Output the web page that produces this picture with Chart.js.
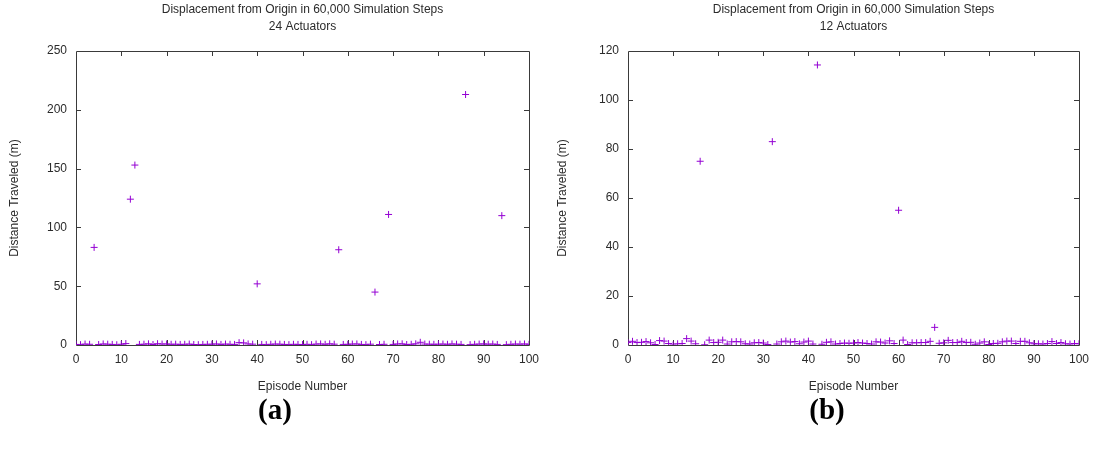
<!DOCTYPE html>
<html>
<head>
<meta charset="utf-8">
<script src="https://cdn.jsdelivr.net/npm/chart.js@4.4.1/dist/chart.umd.min.js"></script>
<style>
  html, body { margin: 0; padding: 0; background: #fff; }
  #page { position: relative; width: 1097px; height: 455px; overflow: hidden; background: #fff; }
  .panel { position: absolute; top: 0; }
  .tag { position: absolute; top: 389px; width: 120px; text-align: center;
         font-family: "Liberation Serif", "DejaVu Serif", serif; font-weight: bold;
         font-size: 29px; color: #000; line-height: 40px; }
</style>
</head>
<body>
<div id="page">
  <div class="panel" style="left:0; width:548px;"><canvas id="chartA" width="548" height="400"></canvas></div>
  <div class="panel" style="left:548px; width:549px;"><canvas id="chartB" width="549" height="400"></canvas></div>
  <div class="tag" style="left:215px;">(a)</div>
  <div class="tag" style="left:767px;">(b)</div>
</div>
<script>
// Episode numbers (x values shared by both runs)
const episodes = [
  0, 1, 2, 3, 4, 5, 6, 7, 8, 9, 10, 11, 12, 13, 14, 15, 16, 17, 18, 19,
  20, 21, 22, 23, 24, 25, 26, 27, 28, 29, 30, 31, 32, 33, 34, 35, 36, 37, 38, 39,
  40, 41, 42, 43, 44, 45, 46, 47, 48, 49, 50, 51, 52, 53, 54, 55, 56, 57, 58, 59,
  60, 61, 62, 63, 64, 65, 66, 67, 68, 69, 70, 71, 72, 73, 74, 75, 76, 77, 78, 79,
  80, 81, 82, 83, 84, 85, 86, 87, 88, 89, 90, 91, 92, 93, 94, 95, 96, 97, 98, 99, 100
];

// Distance traveled (m) per episode, 24 actuators
const distance24 = [
  0.5, 0.3, 0.8, 0.6, 83, 0.4, 0.9, 0.7, 0.5, 0.2, 0.6, 1.2, 124, 153, 0.5, 0.7, 1.0, 0.4, 1.1, 0.8,
  0.9, 0.6, 0.7, 0.5, 0.6, 0.8, 0.4, 0.3, 0.5, 0.6, 0.7, 0.9, 0.5, 0.8, 0.6, 0.5, 2.0, 1.8, 0.9, 0.7,
  52, 0.5, 0.3, 0.6, 0.8, 0.7, 0.5, 0.3, 0.6, 0.5, 0.4, 0.6, 0.3, 0.8, 0.9, 0.6, 1.0, 0.7, 81, 0.5,
  0.6, 0.8, 0.9, 0.5, 0.3, 0.7, 45, 0.4, 0.6, 111, 0.5, 0.9, 1.0, 0.4, 0.6, 1.0, 2.3, 0.8, 0.7, 0.6,
  0.7, 0.8, 0.6, 0.9, 0.7, 0.5, 213, 0.3, 0.6, 0.8, 0.9, 0.7, 0.8, 0.5, 110, 0.3, 0.6, 0.8, 0.7, 0.9, 0.6
];

// Distance traveled (m) per episode, 12 actuators
const distance12 = [
  1.0, 1.5, 1.0, 1.1, 1.4, 0.9, 0.2, 1.8, 1.6, 0.6, 0.0, 0.5, 0.6, 2.6, 1.6, 0.5, 75, 0.1, 2.0, 1.0,
  1.1, 2.0, 0.4, 1.3, 1.4, 1.3, 0.5, 0.4, 0.9, 1.0, 0.8, 0.2, 83, 0.4, 1.3, 1.6, 1.2, 1.4, 0.5, 1.2,
  1.6, 0.4, 114.3, 0.3, 1.1, 1.3, 0.4, 0.6, 0.8, 0.7, 0.8, 1.0, 0.8, 0.6, 0.4, 1.3, 1.2, 0.8, 1.7, 0.6,
  55, 2.0, 0.2, 0.9, 0.9, 1.0, 1.0, 1.5, 7.2, 0.7, 0.9, 1.9, 1.0, 1.0, 1.5, 1.0, 1.1, 0.3, 0.8, 1.3,
  0.2, 0.6, 0.7, 1.3, 1.6, 1.6, 0.6, 1.5, 1.5, 0.9, 0.5, 0.5, 0.4, 0.6, 1.4, 0.6, 1.0, 0.5, 0.4, 0.6, 0.5
];

// Axis tick settings
const xTicks = { min: 0, max: 100, step: 10 };
const yTicks24 = { min: 0, max: 250, step: 50 };
const yTicks12 = { min: 0, max: 120, step: 20 };

const FONT = '"Liberation Sans", Arial, sans-serif';
const TEXT = '#2b2b2b';
const FRAME = '#3a3a3a';
const MARK = '#9400d3';

// Closed frame with short inward tick marks on all four sides
const framePlugin = {
  id: 'frame',
  beforeDatasetsDraw(chart) {
    const { ctx, chartArea: a, scales } = chart;
    const L = 5;
    ctx.save();
    ctx.strokeStyle = FRAME;
    ctx.lineWidth = 1;
    ctx.beginPath();
    ctx.rect(Math.round(a.left) + 0.5, Math.round(a.top) + 0.5,
             Math.round(a.right - a.left), Math.round(a.bottom - a.top));
    scales.x.ticks.forEach(t => {
      const px = Math.round(scales.x.getPixelForValue(t.value)) + 0.5;
      if (px <= a.left + 1 || px >= a.right - 1) return;
      ctx.moveTo(px, a.bottom); ctx.lineTo(px, a.bottom - L);
      ctx.moveTo(px, a.top); ctx.lineTo(px, a.top + L);
    });
    scales.y.ticks.forEach(t => {
      const py = Math.round(scales.y.getPixelForValue(t.value)) + 0.5;
      if (py <= a.top + 1 || py >= a.bottom - 1) return;
      ctx.moveTo(a.left, py); ctx.lineTo(a.left + L, py);
      ctx.moveTo(a.right, py); ctx.lineTo(a.right - L, py);
    });
    ctx.stroke();
    ctx.restore();
  }
};

function makeChart(canvasId, subtitle, values, yt, yAxisWidth, padRight) {
  const points = episodes.map((e, i) => ({ x: e, y: values[i] }));
  return new Chart(document.getElementById(canvasId), {
    type: 'scatter',
    data: {
      datasets: [{
        data: points,
        pointStyle: 'cross',
        pointRadius: 3.5,
        pointHoverRadius: 3.5,
        borderColor: MARK,
        backgroundColor: MARK,
        pointBorderWidth: 1
      }]
    },
    plugins: [framePlugin],
    options: {
      responsive: false,
      animation: false,
      events: [],
      layout: { padding: { left: 0, right: padRight, top: 0, bottom: 0 } },
      plugins: {
        legend: { display: false },
        tooltip: { enabled: false },
        title: {
          display: true,
          fullSize: false,
          text: ['Displacement from Origin in 60,000 Simulation Steps', subtitle],
          color: TEXT,
          font: { family: FONT, size: 12, weight: 'normal', lineHeight: 1.35 },
          padding: { top: 2, bottom: 16.6 }
        }
      },
      scales: {
        x: {
          type: 'linear',
          min: xTicks.min, max: xTicks.max,
          ticks: { stepSize: xTicks.step, color: TEXT, font: { family: FONT, size: 12 }, padding: 7, maxRotation: 0 },
          grid: { display: false, drawTicks: false },
          border: { display: false },
          title: { display: true, text: 'Episode Number', color: TEXT,
                   font: { family: FONT, size: 12 }, padding: { top: 0, bottom: 6 } },
          afterFit(scale) { scale.height = 55; }
        },
        y: {
          min: yt.min, max: yt.max,
          ticks: { stepSize: yt.step, color: TEXT, font: { family: FONT, size: 12 }, padding: 9 },
          grid: { display: false, drawTicks: false },
          border: { display: false },
          title: { display: true, text: 'Distance Traveled (m)', color: TEXT,
                   font: { family: FONT, size: 12 }, padding: { top: 7, bottom: 0 } },
          afterFit(scale) { scale.width = yAxisWidth; }
        }
      }
    }
  });
}

makeChart('chartA', '24 Actuators', distance24, yTicks24, 76, 19);
makeChart('chartB', '12 Actuators', distance12, yTicks12, 80, 18);
</script>
</body>
</html>
